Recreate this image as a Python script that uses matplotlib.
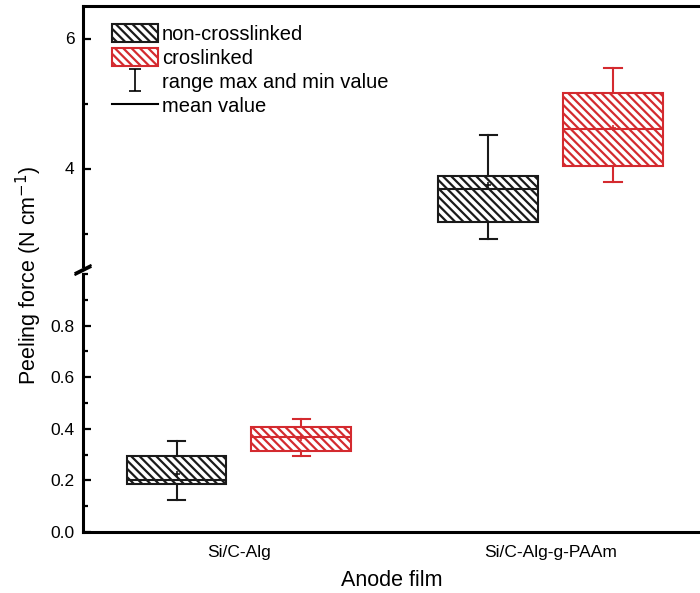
import matplotlib
matplotlib.use("Agg")
import matplotlib.pyplot as plt
from matplotlib.patches import Patch
from matplotlib.lines import Line2D
from matplotlib.path import Path
from matplotlib.ticker import MultipleLocator

plt.rcParams['font.family'] = ['Liberation Sans', 'DejaVu Sans']
plt.rcParams['hatch.linewidth'] = 1.6

categories = ['Si/C-Alg', 'Si/C-Alg-g-PAAm']
series_names = ['non-crosslinked', 'croslinked']

nc_q1 = [0.185, 3.18]
nc_q3 = [0.293, 3.88]
nc_med = [0.200, 3.69]
nc_min = [0.124, 2.91]
nc_max = [0.352, 4.52]
nc_mean = [0.224, 3.74]

cl_q1 = [0.315, 4.04]
cl_q3 = [0.407, 5.16]
cl_med = [0.370, 4.61]
cl_min = [0.294, 3.79]
cl_max = [0.437, 5.54]
cl_mean = [0.365, 4.63]

colors = ['#1a1a1a', '#d42a2f']

fig = plt.figure(figsize=(7.0, 5.93), dpi=100)
W, H = 700.0, 593.0
left = 83 / W
width = (706.5 - 83) / W
ax_top = fig.add_axes([left, (H - 266) / H, width, 260 / H])
ax_bot = fig.add_axes([left, (H - 532) / H, width, 258 / H])

def stats(q1, q3, med, lo, hi, mean):
    out = []
    for i in range(len(q1)):
        out.append(dict(q1=q1[i], q3=q3[i], med=med[i], whislo=lo[i],
                        whishi=hi[i], mean=mean[i], fliers=[]))
    return out

groups = [
    (stats(nc_q1, nc_q3, nc_med, nc_min, nc_max, nc_mean), -0.2, colors[0]),
    (stats(cl_q1, cl_q3, cl_med, cl_min, cl_max, cl_mean), 0.2, colors[1]),
]
base = [1, 2]
hatch = '\\\\\\\\'
for ax in (ax_top, ax_bot):
    for st, off, c in groups:
        ax.bxp(st, positions=[b + off for b in base], widths=0.32,
               patch_artist=True, showmeans=True, showfliers=False,
               capwidths=0.055,
               boxprops=dict(facecolor='white', edgecolor=c, hatch=hatch, linewidth=1.5),
               medianprops=dict(color=c, linewidth=1.5),
               whiskerprops=dict(color=c, linewidth=1.5),
               capprops=dict(color=c, linewidth=1.5),
               meanprops=dict(marker='+', markersize=5, markeredgecolor=c,
                              markeredgewidth=1.2, markerfacecolor=c))
    ax.set_xlim(0.5, 2.5)
    ax.spines['right'].set_visible(False)
    for s in ax.spines.values():
        s.set_linewidth(2.2)
    ax.tick_params(axis='y', which='major', direction='in', length=6, width=1.6,
                   labelsize=12.5, pad=6)
    ax.tick_params(axis='y', which='minor', direction='in', length=3.5, width=1.6)

ax_top.set_ylim(2.5, 6.5)
ax_top.yaxis.set_major_locator(MultipleLocator(2))
ax_top.yaxis.set_minor_locator(MultipleLocator(1))
ax_top.spines['bottom'].set_visible(False)
ax_top.set_xticks([])

ax_bot.set_ylim(0, 1.0)
ax_bot.yaxis.set_major_locator(MultipleLocator(0.2))
ax_bot.yaxis.set_minor_locator(MultipleLocator(0.1))
ax_bot.set_yticks([0.0, 0.2, 0.4, 0.6, 0.8])
ax_bot.set_yticklabels(['0.0', '0.2', '0.4', '0.6', '0.8'])
ax_bot.spines['top'].set_visible(False)
ax_bot.set_xticks(base)
ax_bot.set_xticklabels(categories)
ax_bot.tick_params(axis='x', length=0, labelsize=12.5, pad=9)

# break marks
d = 0.012
kw = dict(color='black', lw=1.6, clip_on=False)
ax_top.plot([-d, d], [-0.012 - d * 1.2, -0.012 + d * 1.2], transform=ax_top.transAxes, **kw)
ax_bot.plot([-d, d], [1.012 - d * 1.2, 1.012 + d * 1.2], transform=ax_bot.transAxes, **kw)

# legend
ibeam = Path([(-0.5, -1), (0.5, -1), (0, -1), (0, 1), (-0.5, 1), (0.5, 1)],
             [Path.MOVETO, Path.LINETO, Path.MOVETO, Path.LINETO, Path.MOVETO, Path.LINETO])
handles = [
    Patch(facecolor='white', edgecolor=colors[0], hatch=hatch, linewidth=1.5),
    Patch(facecolor='white', edgecolor=colors[1], hatch=hatch, linewidth=1.5),
    Line2D([], [], linestyle='none', marker=ibeam, markersize=16, markerfacecolor='none',
           markeredgecolor='black', markeredgewidth=1.2),
    Line2D([], [], color='black', linewidth=1.5),
]
labels = series_names + ['range max and min value', 'mean value']
leg = ax_top.legend(handles, labels, loc='upper left', bbox_to_anchor=(0.046, 0.93),
                    frameon=False, fontsize=14.5, handlelength=2.3, handleheight=1.0,
                    handletextpad=0.2, labelspacing=0.2, borderpad=0, borderaxespad=0)

fig.text(29 / W, (H - 275) / H, 'Peeling force (N cm$^{-1}$)', rotation=90,
         ha='center', va='center', fontsize=15.5)
fig.text(392 / W, (H - 580) / H, 'Anode film', ha='center', va='center', fontsize=15.5)

fig.savefig('out.png', dpi=100)
